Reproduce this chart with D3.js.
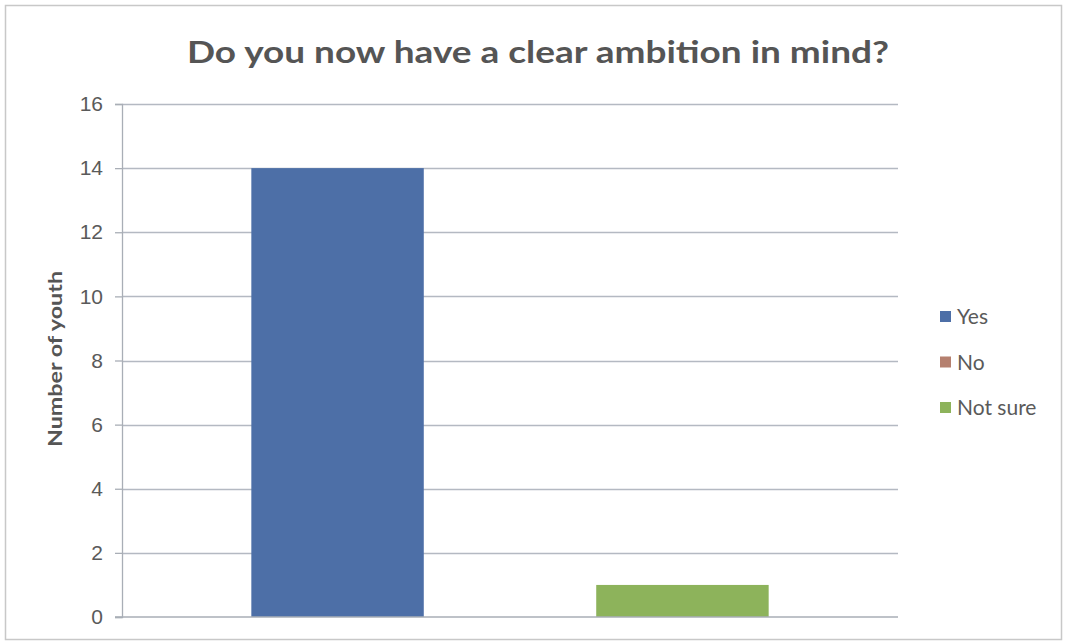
<!DOCTYPE html>
<html>
<head>
<meta charset="utf-8">
<script src="https://cdn.jsdelivr.net/npm/d3@7"></script>
<style>
  body { margin: 0; background: #fff; }
  svg { display: block; font-family: Lato, "Open Sans", sans-serif; }
</style>
</head>
<body>
<svg id="chart" width="1067" height="643"></svg>
<script>
// chart data
const series = ["Yes", "No", "Not sure"];
const values = [14, 0, 1];
const colors = ["#4d6fa7", "#b5806f", "#8db35b"];
const yTicks = [0, 2, 4, 6, 8, 10, 12, 14, 16];
const titleText = "Do you now have a clear ambition in mind?";
const yLabel = "Number of youth";

const svg = d3.select("#chart");
const margin = {top: 104, right: 169, bottom: 26, left: 122};
const W = 1067, H = 643;

// outer frame
svg.append("rect")
  .attr("x", 5.5).attr("y", 5.5)
  .attr("width", W - 11).attr("height", H - 9)
  .attr("fill", "#fff")
  .attr("stroke", "#c8c8c8")
  .attr("stroke-width", 1.5);

let scaleY = d3.scaleLinear().domain([0, 16])
  .range([H - margin.bottom, margin.top]);

let scaleX = d3.scaleBand().domain(series)
  .range([margin.left, W - margin.right])
  .paddingInner(0)
  .paddingOuter(0.75);

// gridlines
svg.append("g")
  .selectAll("line")
  .data(yTicks.filter(d => d > 0))
  .enter().append("line")
  .attr("x1", margin.left)
  .attr("x2", W - margin.right)
  .attr("y1", d => Math.round(scaleY(d)) + 0.5)
  .attr("y2", d => Math.round(scaleY(d)) + 0.5)
  .attr("stroke", "#b4b9c2")
  .attr("stroke-width", 1.3);

// bars
svg.append("g")
  .selectAll("rect")
  .data(values)
  .enter().append("rect")
  .attr("x", (d, i) => scaleX(series[i]))
  .attr("y", d => scaleY(d))
  .attr("width", scaleX.bandwidth())
  .attr("height", d => scaleY(0) - scaleY(d))
  .attr("fill", (d, i) => colors[i]);

// y axis
let yaxis = svg.append("g")
  .attr("transform", "translate(" + margin.left + ",0)")
  .call(d3.axisLeft(scaleY).tickValues(yTicks).tickSize(7).tickPadding(12));
yaxis.select(".domain").attr("stroke", "#a9aeb6").attr("stroke-width", 1.3);
yaxis.selectAll(".tick line").attr("stroke", "#a9aeb6").attr("stroke-width", 1.3);
yaxis.selectAll(".tick text")
  .attr("fill", "#5a5a5a")
  .style("font-size", "21px");

// x axis baseline
svg.append("line")
  .attr("x1", margin.left - 7)
  .attr("x2", W - margin.right)
  .attr("y1", scaleY(0))
  .attr("y2", scaleY(0))
  .attr("stroke", "#a9aeb6")
  .attr("stroke-width", 1.3);

// title
svg.append("text")
  .attr("x", 538)
  .attr("y", 63)
  .attr("text-anchor", "middle")
  .attr("fill", "#555")
  .style("font-size", "31px")
  .style("font-weight", "bold")
  .attr("textLength", 702)
  .attr("lengthAdjust", "spacingAndGlyphs")
  .text(titleText);

// y label
svg.append("text")
  .attr("transform", "translate(62,359) rotate(-90)")
  .attr("text-anchor", "middle")
  .attr("fill", "#555")
  .style("font-size", "18px")
  .style("font-weight", "bold")
  .attr("textLength", 176)
  .attr("lengthAdjust", "spacingAndGlyphs")
  .text(yLabel);

// legend
let legend = svg.append("g").attr("transform", "translate(940,317)");
series.forEach(function(s, i) {
  let g = legend.append("g").attr("transform", "translate(0," + (i * 45.5) + ")");
  g.append("rect")
    .attr("x", 0).attr("y", -6)
    .attr("width", 11).attr("height", 11)
    .attr("fill", colors[i]);
  g.append("text")
    .attr("x", 17).attr("y", 7)
    .attr("fill", "#5a5a5a")
    .style("font-size", "21px")
    .text(s);
});
</script>
</body>
</html>
